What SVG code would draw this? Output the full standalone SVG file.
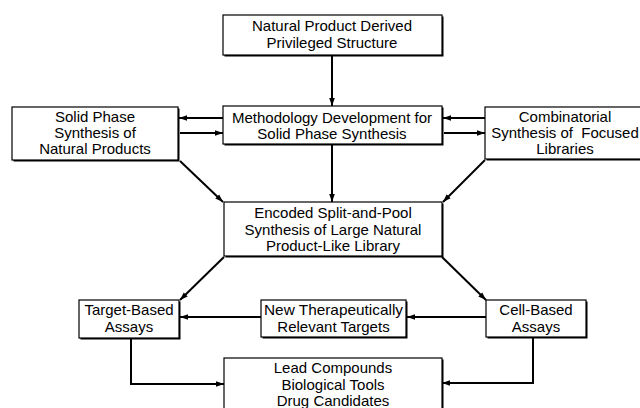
<svg xmlns="http://www.w3.org/2000/svg" width="640" height="408" viewBox="0 0 640 408">
  <style>
    .box { fill: #fff; stroke: #000; stroke-width: 1.2; }
    .shadow { fill: #000; }
    .lbl { font-family: "Liberation Sans", Arial, sans-serif; font-size: 15px; fill: #000; text-anchor: middle; }
    .conn { fill: none; stroke: #000; stroke-width: 2; }
  </style>
  <defs>
    <marker id="arr" viewBox="0 0 10 10" refX="10" refY="5" markerWidth="4" markerHeight="4" orient="auto" markerUnits="strokeWidth">
      <path d="M0,1.5 L10,5 L0,8.5 Z" fill="#000"/>
    </marker>
  </defs>
  <rect width="640" height="408" fill="#fff"/>

  <g id="connectors">
    <line class="conn" x1="332" y1="55" x2="332" y2="106" marker-end="url(#arr)"/>
    <line class="conn" x1="223" y1="118" x2="179" y2="118" marker-end="url(#arr)"/>
    <line class="conn" x1="180" y1="133" x2="223" y2="133" marker-end="url(#arr)"/>
    <line class="conn" x1="485" y1="118" x2="443" y2="118" marker-end="url(#arr)"/>
    <line class="conn" x1="444" y1="133" x2="485" y2="133" marker-end="url(#arr)"/>
    <line class="conn" x1="332" y1="145" x2="332" y2="202" marker-end="url(#arr)"/>
    <line class="conn" x1="180" y1="161" x2="223" y2="202" marker-end="url(#arr)"/>
    <line class="conn" x1="485" y1="160" x2="443" y2="202" marker-end="url(#arr)"/>
    <line class="conn" x1="224" y1="257" x2="180" y2="300" marker-end="url(#arr)"/>
    <line class="conn" x1="442" y1="257" x2="486" y2="300" marker-end="url(#arr)"/>
    <line class="conn" x1="486" y1="317" x2="407" y2="317" marker-end="url(#arr)"/>
    <line class="conn" x1="261" y1="317" x2="180" y2="317" marker-end="url(#arr)"/>
    <polyline class="conn" points="131,339 131,384 224,384" marker-end="url(#arr)"/>
    <polyline class="conn" points="533,338 533,383 442,383" marker-end="url(#arr)"/>
  </g>

  <g id="top">
    <rect class="shadow" x="224.5" y="16.5" width="219" height="40"/>
    <rect class="box" x="223" y="15" width="219" height="40"/>
    <text class="lbl" x="332" y="31">Natural Product Derived</text>
    <text class="lbl" x="332" y="48">Privileged Structure</text>
  </g>

  <g id="methodology">
    <rect class="shadow" x="224.5" y="107.5" width="219" height="38"/>
    <rect class="box" x="223" y="106" width="219" height="38"/>
    <text class="lbl" x="332" y="123">Methodology Development for</text>
    <text class="lbl" x="332" y="139">Solid Phase Synthesis</text>
  </g>

  <g id="solidphase">
    <rect class="shadow" x="13.5" y="108.5" width="166" height="53"/>
    <rect class="box" x="12" y="107" width="166" height="53"/>
    <text class="lbl" x="95" y="122">Solid Phase</text>
    <text class="lbl" x="95" y="138">Synthesis of</text>
    <text class="lbl" x="95" y="154">Natural Products</text>
  </g>

  <g id="combinatorial">
    <rect class="shadow" x="486.5" y="108.5" width="160" height="52"/>
    <rect class="box" x="485" y="107" width="160" height="52"/>
    <text class="lbl" x="565" y="122">Combinatorial</text>
    <text class="lbl" x="565" y="138" xml:space="preserve">Synthesis of  Focused</text>
    <text class="lbl" x="565" y="154">Libraries</text>
  </g>

  <g id="encoded">
    <rect class="shadow" x="225.5" y="203.5" width="218" height="54"/>
    <rect class="box" x="224" y="202" width="218" height="54"/>
    <text class="lbl" x="333" y="218">Encoded Split-and-Pool</text>
    <text class="lbl" x="333" y="235">Synthesis of Large Natural</text>
    <text class="lbl" x="333" y="251">Product-Like Library</text>
  </g>

  <g id="target">
    <rect class="shadow" x="80.5" y="301.5" width="100" height="38"/>
    <rect class="box" x="79" y="300" width="100" height="38"/>
    <text class="lbl" x="129" y="315">Target-Based</text>
    <text class="lbl" x="129" y="332">Assays</text>
  </g>

  <g id="newtargets">
    <rect class="shadow" x="262.5" y="301.5" width="145" height="37"/>
    <rect class="box" x="261" y="300" width="145" height="37"/>
    <text class="lbl" x="333.5" y="315" textLength="139" lengthAdjust="spacingAndGlyphs">New Therapeutically</text>
    <text class="lbl" x="333.5" y="332">Relevant Targets</text>
  </g>

  <g id="cell">
    <rect class="shadow" x="487.5" y="301.5" width="100" height="37"/>
    <rect class="box" x="486" y="300" width="100" height="37"/>
    <text class="lbl" x="536" y="315">Cell-Based</text>
    <text class="lbl" x="536" y="332">Assays</text>
  </g>

  <g id="lead">
    <rect class="shadow" x="225.5" y="359.5" width="218" height="60"/>
    <rect class="box" x="224" y="358" width="218" height="60"/>
    <text class="lbl" x="333" y="373">Lead Compounds</text>
    <text class="lbl" x="333" y="390">Biological Tools</text>
    <text class="lbl" x="333" y="406">Drug Candidates</text>
  </g>
</svg>
